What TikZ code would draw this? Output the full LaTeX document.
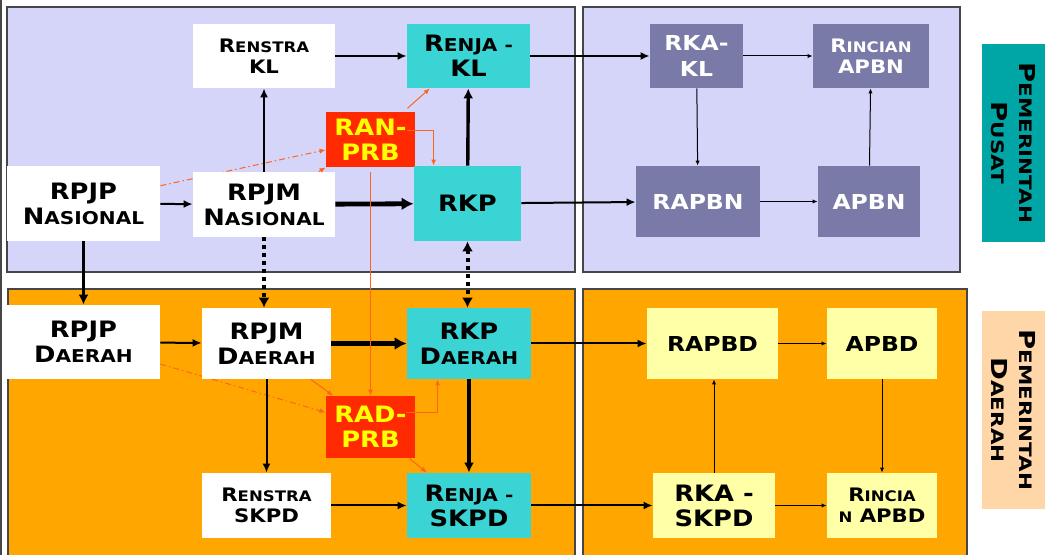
\documentclass[tikz,border=0pt]{standalone}
\usepackage{fontspec}
\usepackage{tikz}
\usetikzlibrary{arrows.meta, positioning, calc}

\newfontfamily\boxfont{DejaVu Sans}[FakeStretch=1.14]
\newfontfamily\sidefont{DejaVu Sans}[FakeStretch=1.25]
\newcommand{\capsm}[1]{\scalebox{0.78}{#1}}

\definecolor{panelblue}{RGB}{213,213,250}
\definecolor{panelorange}{RGB}{255,166,0}
\definecolor{panelline}{RGB}{70,70,70}
\definecolor{rkcyan}{RGB}{58,212,212}
\definecolor{prbred}{RGB}{255,42,0}
\definecolor{prbyellow}{RGB}{255,255,0}
\definecolor{pusatslate}{RGB}{122,122,168}
\definecolor{daerahyellow}{RGB}{255,255,168}
\definecolor{pusatteal}{RGB}{0,166,166}
\definecolor{daerahpeach}{RGB}{255,214,168}
\definecolor{prbline}{RGB}{255,100,30}

\pgfdeclarelayer{panels}
\pgfdeclarelayer{links}
\pgfsetlayers{panels,links,main}

\begin{document}
\begin{tikzpicture}[x=0.5pt, y=-0.5pt,
    box/.style={inner sep=0pt, align=center, font=\boxfont\bfseries\fontsize{11.3}{12.5}\selectfont},
    smallfont/.style={font=\boxfont\bfseries\fontsize{9.3}{10.5}\selectfont},
    midfont/.style={font=\boxfont\bfseries\fontsize{10.3}{13}\selectfont},
    whitebox/.style={box, fill=white},
    cyanbox/.style={box, fill=rkcyan},
    prbbox/.style={box, fill=prbred, text=prbyellow},
    pusatbox/.style={box, fill=pusatslate, text=white},
    daerahbox/.style={box, fill=daerahyellow},
    sidebox/.style={inner sep=0pt, align=center, minimum width=99pt, minimum height=31.5pt,
      font=\sidefont\bfseries\fontsize{11}{14}\selectfont, rotate=-90},
    panelpusat/.style={fill=panelblue, draw=panelline, line width=0.7pt},
    paneldaerah/.style={fill=panelorange, draw=panelline, line width=0.7pt},
    thinarrow/.style={line width=0.5pt, -{Latex[length=2.5pt,width=2.2pt]}},
    midarrow/.style={line width=1pt, -{Latex[length=4.5pt,width=4pt]}},
    tallarrow/.style={line width=1.7pt, -{Latex[length=5pt,width=5pt]}},
    fatarrow/.style={line width=2.4pt, -{Latex[length=6pt,width=6.5pt]}},
    dotarrow/.style={line width=2pt, dash pattern=on 2pt off 2pt, -{Latex[length=5pt,width=5.5pt]}},
    pline/.style={draw=prbline, line width=0.5pt, -{Latex[length=3pt,width=2.5pt]}},
    pdashdot/.style={pline, dash pattern=on 3pt off 1.5pt on 0.75pt off 1.5pt}]

  \useasboundingbox (0,0) rectangle (1045,555);

  % panels
  \begin{pgfonlayer}{panels}
    \draw[panelpusat] (7,7) rectangle (575,272);
    \draw[panelpusat] (583,7) rectangle (960,272);
    \draw[paneldaerah] (8,289) rectangle (575,562);
    \draw[paneldaerah] (583,289) rectangle (967,562);
    \draw[panelline, line width=1pt] (1,0) -- (1,555);
  \end{pgfonlayer}

  % pusat
  \node[whitebox, smallfont, minimum width=71pt, minimum height=32pt] (renstrakl) at (264,56) {R\capsm{ENSTRA}\\KL};
  \node[cyanbox, minimum width=61.5pt, minimum height=32pt] (renjakl) at (468.5,56) {R\capsm{ENJA -}\\KL};
  \node[pusatbox, midfont, minimum width=46.5pt, minimum height=32pt] (rkakl) at (696.5,56) {RKA-\\KL};
  \node[pusatbox, smallfont, minimum width=58pt, minimum height=32pt] (rincianapbn) at (871,56) {R\capsm{INCIAN}\\APBN};
  \node[prbbox, minimum width=44.5pt, minimum height=27.5pt] (ranprb) at (370.5,139.5) {RAN-\\PRB};
  \node[whitebox, minimum width=76.5pt, minimum height=37.5pt] (rpjpnas) at (83.5,203.5) {RPJP\\N\capsm{ASIONAL}};
  \node[whitebox, minimum width=71pt, minimum height=32.5pt] (rpjmnas) at (264,204.5) {RPJM\\N\capsm{ASIONAL}};
  \node[cyanbox, minimum width=53.5pt, minimum height=37.5pt] (rkp) at (467.5,203.5) {RKP};
  \node[pusatbox, midfont, minimum width=62pt, minimum height=35.5pt] (rapbn) at (698,201.5) {RAPBN};
  \node[pusatbox, midfont, minimum width=51pt, minimum height=35.5pt] (apbn) at (869,201.5) {APBN};

  % daerah
  \node[whitebox, minimum width=76.5pt, minimum height=37pt] (rpjpda) at (83.5,342) {RPJP\\D\capsm{AERAH}};
  \node[whitebox, minimum width=64.5pt, minimum height=35.5pt] (rpjmda) at (266.5,343.5) {RPJM\\D\capsm{AERAH}};
  \node[cyanbox, minimum width=62pt, minimum height=35.5pt] (rkpda) at (469,343.5) {RKP\\D\capsm{AERAH}};
  \node[prbbox, minimum width=44.5pt, minimum height=31pt] (radprb) at (370.5,427) {RAD-\\PRB};
  \node[whitebox, smallfont, minimum width=64.5pt, minimum height=32.5pt] (renstraskpd) at (266.5,505.5) {R\capsm{ENSTRA}\\SKPD};
  \node[cyanbox, minimum width=62pt, minimum height=32.5pt] (renjaskpd) at (469,505.5) {R\capsm{ENJA -}\\SKPD};
  \node[daerahbox, midfont, minimum width=65.5pt, minimum height=35.5pt] (rapbd) at (712.5,343.5) {RAPBD};
  \node[daerahbox, midfont, minimum width=55pt, minimum height=35.5pt] (apbd) at (882,343.5) {APBD};
  \node[daerahbox, minimum width=61pt, minimum height=32.5pt] (rkaskpd) at (714,505.5) {RKA -\\SKPD};
  \node[daerahbox, smallfont, minimum width=55pt, minimum height=32.5pt] (rincianapbd) at (882,505.5) {R\capsm{INCIA}\\\capsm{N} APBD};

  % side labels
  \node[sidebox, fill=pusatteal] (pusatlabel) at (1013.5,143) {P\capsm{EMERINTAH}\\P\capsm{USAT}};
  \node[sidebox, fill=daerahpeach] (daerahlabel) at (1013.5,410) {P\capsm{EMERINTAH}\\D\capsm{AERAH}};

  % black flows
  \draw[midarrow] (rpjpnas) -- (rpjmnas);
  \draw[fatarrow] (rpjmnas) -- (rkp);
  \draw[midarrow] (rpjmnas) -- (renstrakl);
  \draw[midarrow] (renstrakl) -- (renjakl);
  \draw[tallarrow] (rkp) -- (renjakl);
  \draw[midarrow] (renjakl) -- (rkakl);
  \draw[midarrow] (rkp) -- (rapbn);
  \draw[thinarrow] (rkakl) -- (rapbn);
  \draw[thinarrow] (rkakl) -- (rincianapbn);
  \draw[thinarrow] (rapbn) -- (apbn);
  \draw[thinarrow] (apbn) -- (rincianapbn);
  \draw[tallarrow] (rpjpnas) -- (rpjpda);
  \draw[dotarrow] (rpjmnas) -- (rpjmnas.south |- rpjmda.north);
  \draw[dotarrow, {Latex[length=5pt,width=5.5pt]}-{Latex[length=5pt,width=5.5pt]}] (rkp) -- (rkp.south |- rkpda.north);

  \draw[midarrow] (rpjpda) -- (rpjmda);
  \draw[fatarrow] (rpjmda) -- (rkpda);
  \draw[midarrow] (rkpda) -- (rapbd);
  \draw[thinarrow] (rapbd) -- (apbd);
  \draw[midarrow] (rpjmda) -- (renstraskpd);
  \draw[tallarrow] (rkpda) -- (renjaskpd);
  \draw[midarrow] (renstraskpd) -- (renjaskpd);
  \draw[midarrow] (renjaskpd) -- (rkaskpd);
  \draw[thinarrow] (rkaskpd) -- (rkaskpd.north |- rapbd.south);
  \draw[thinarrow] (rkaskpd) -- (rincianapbd);
  \draw[thinarrow] (apbd) -- (rincianapbd);

  % prb flows
  \begin{pgfonlayer}{links}
    \draw[pdashdot] (rpjpnas.13) -- (ranprb.193);
    \draw[pdashdot] (rpjpda.-16) -- (radprb.162);
  \end{pgfonlayer}
  \draw[pline] (rpjmnas.31) -- (ranprb.south west);
  \draw[pline, shorten <=2.5pt] (ranprb.40) -- (renjakl.220);
  \draw[pline] ($(ranprb.east)+(-8,-8.5)$) -| ($(rkp.north west)+(20,0)$);
  \draw[pline, shorten <=2.5pt] (ranprb) -- (radprb);
  \draw[pline] (rpjmda.-39) -- (radprb.140);
  \draw[pline] ($(radprb.east)+(-9,-14)$) -| ($(rkpda.south west)+(31,0)$);
  \draw[pline] ($(radprb.south east)+(-6,0)$) -- (renjaskpd.142);
\end{tikzpicture}
\end{document}
